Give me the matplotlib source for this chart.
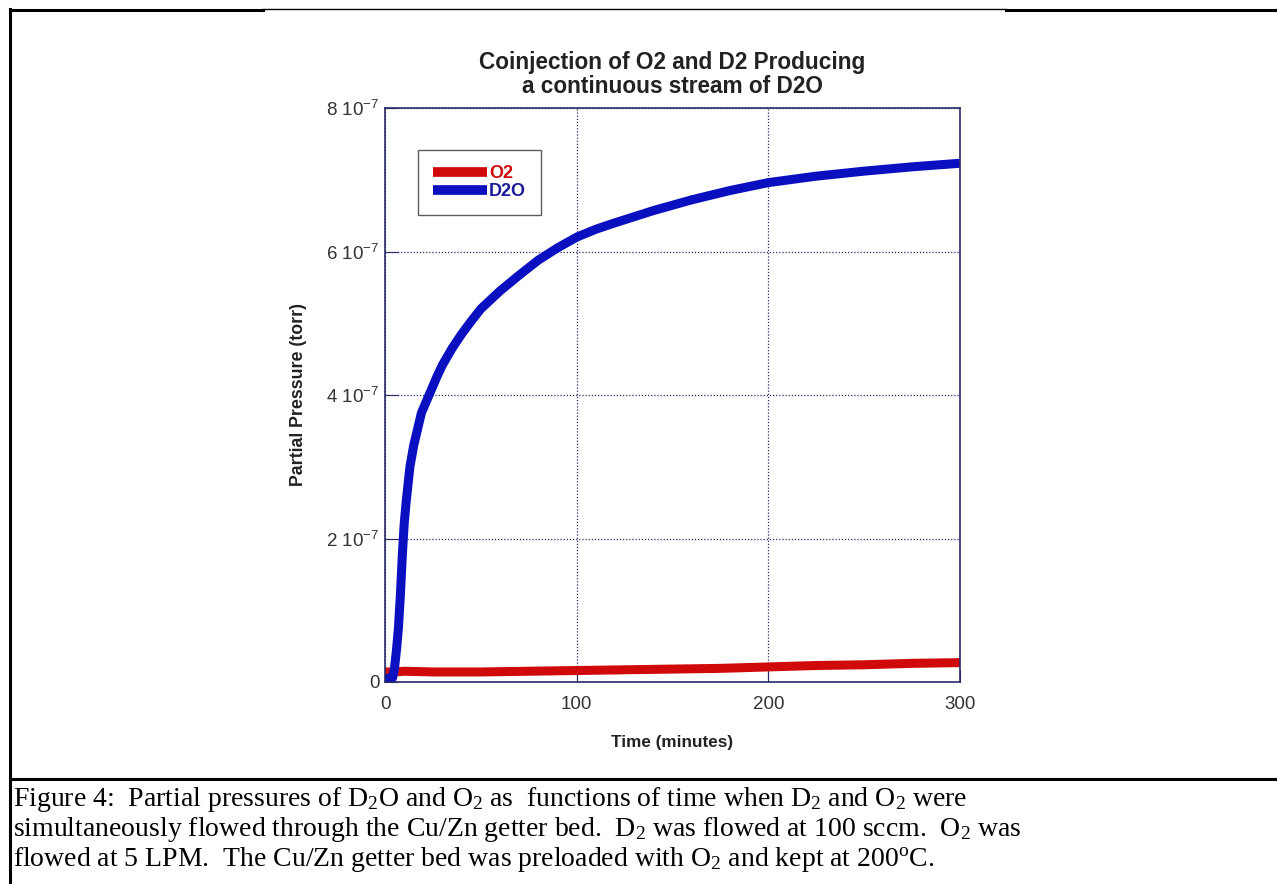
import matplotlib
matplotlib.use("Agg")
import matplotlib.pyplot as plt
from matplotlib.lines import Line2D

# data (time in minutes, pressure in torr)
t_d2o = [0, 2, 4, 5, 6, 7, 8, 9, 10, 11, 13, 15, 19, 23, 27, 30, 35, 40, 45, 50, 60,
         70, 80, 90, 100, 110, 120, 140, 160, 180, 200, 225, 250, 275, 300]
p_d2o = [0.05, 0.05, 0.06, 0.2, 0.45, 0.75, 1.2, 1.75, 2.2, 2.5, 3.0, 3.3, 3.75, 4.0,
         4.25, 4.42, 4.65, 4.85, 5.03, 5.2, 5.45, 5.67, 5.88, 6.05, 6.2, 6.31, 6.4,
         6.57, 6.72, 6.85, 6.96, 7.05, 7.12, 7.18, 7.23]

t_o2 = [0, 5, 10, 25, 50, 75, 100, 125, 150, 175, 200, 225, 250, 275, 300]
p_o2 = [0.14, 0.14, 0.15, 0.14, 0.14, 0.15, 0.16, 0.17, 0.18, 0.19, 0.21, 0.23,
        0.24, 0.26, 0.27]

scale = 1e-7
x_ticks = [0, 100, 200, 300]
y_ticks = [0, 2, 4, 6, 8]
y_tick_labels = ["0", r"2 10$^{-7}$", r"4 10$^{-7}$", r"6 10$^{-7}$", r"8 10$^{-7}$"]

caption = [
  r"Figure 4:  Partial pressures of D$_2$O and O$_2$ as  functions of time when D$_2$ and O$_2$ were",
  r"simultaneously flowed through the Cu/Zn getter bed.  D$_2$ was flowed at 100 sccm.  O$_2$ was",
  r"flowed at 5 LPM.  The Cu/Zn getter bed was preloaded with O$_2$ and kept at 200$^{o}$C.",
]
# --------------------------------------------------------------

plt.rcParams["font.family"] = ["Liberation Sans", "DejaVu Sans"]
plt.rcParams["mathtext.default"] = "regular"
plt.rcParams["axes.unicode_minus"] = False

navy = "#2a2a6a"
red = "#d00a0a"
blue = "#0a10c0"

W, H = 1277, 884
fig = plt.figure(figsize=(W / 100, H / 100), dpi=100)
ax = fig.add_axes([385 / W, 1 - 682 / H, 575 / W, 574 / H])

# data lines
ax.plot(t_o2, [v * scale for v in p_o2], color=red, linewidth=6.5, label="O2",
        solid_capstyle="butt")
ax.plot(t_d2o, [v * scale for v in p_d2o], color=blue, linewidth=6.5, label="D2O",
        solid_capstyle="butt", solid_joinstyle="round")

ax.set_xlim(0, 300)
ax.set_ylim(0, 8 * scale)
ax.set_xticks(x_ticks)
ax.set_yticks([v * scale for v in y_ticks])
ax.set_yticklabels(y_tick_labels)
ax.tick_params(direction="in", length=9, color=navy, labelsize=13.5,
               labelcolor="#333333")
ax.tick_params(axis="x", pad=10)
ax.tick_params(axis="y", pad=4)
for s in ax.spines.values():
  s.set_color(navy)
  s.set_linewidth(1.2)
ax.grid(True, linestyle=(0, (1, 1.5)), color=navy, linewidth=0.9)

# membuat label-label
ax.set_title("Coinjection of O2 and D2 Producing\na continuous stream of D2O",
             fontsize=16.3, fontweight="bold", color="#222222", pad=11, linespacing=1.05)
ax.set_xlabel("Time (minutes)", fontsize=12.3, fontweight="bold", color="#222222",
              labelpad=16)
ax.set_ylabel("Partial Pressure (torr)", fontsize=12.8, fontweight="bold",
              color="#222222", labelpad=14)

leg = ax.legend(loc="upper left", bbox_to_anchor=(0.057, 0.927), borderaxespad=0,
                frameon=True, fancybox=False, edgecolor="#333333", handlelength=3.0,
                handletextpad=0.1, borderpad=0.85, labelspacing=0.05,
                prop={"weight": "bold", "size": 13})
leg.get_frame().set_linewidth(1.0)
for h in leg.get_lines():
  h.set_linewidth(7)
for txt, c in zip(leg.get_texts(), [red, "#1a1a9a"]):
  txt.set_color(c)

# frame lines of the document table
def hline(x0, x1, y, lw):
  fig.add_artist(Line2D([x0 / W, x1 / W], [1 - y / H, 1 - y / H],
                        transform=fig.transFigure, color="black", linewidth=lw))

hline(10, 263, 9.5, 2.2)
hline(263, 1006, 8.5, 1.0)
hline(1006, 1277, 9.5, 2.2)
hline(10, 1277, 779, 2.2)
fig.add_artist(Line2D([10 / W, 10 / W], [1 - 9 / H, 0], transform=fig.transFigure,
                      color="black", linewidth=2.2))

# caption under the chart
for i, line in enumerate(caption):
  fig.text(13 / W, 1 - (800 + 30 * i) / H, line, fontsize=20, va="center",
           ha="left", family=["Liberation Serif", "DejaVu Serif"], color="black")

fig.savefig("out.png", dpi=100)
